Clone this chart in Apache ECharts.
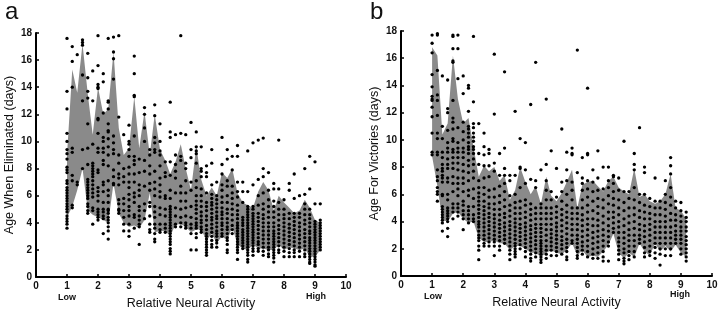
<!DOCTYPE html>
<html><head><meta charset="utf-8">
<style>html,body{margin:0;padding:0;background:#fff}#c{width:720px;height:311px}</style>
<script src="https://cdn.jsdelivr.net/npm/echarts@6/dist/echarts.min.js"></script>
</head><body><div id="c"></div>
<script>
const xs=[1,1.17,1.33,1.5,1.67,1.83,2,2.17,2.33,2.5,2.67,2.83,3,3.17,3.33,3.5,3.67,3.83,4,4.17,4.33,4.5,4.67,4.83,5,5.17,5.33,5.5,5.67,5.83,6,6.17,6.33,6.5,6.67,6.83,7,7.17,7.33,7.5,7.67,7.83,8,8.17,8.33,8.5,8.67,8.83,9,9.17];
const upperA=[9,15.3,13.6,17.2,13.5,10.5,14,12,12.4,16.6,11,9,9.5,13.3,9.5,12.2,9,12,9.4,8.6,7.6,8.5,9.8,8,6.4,9.6,7.2,6,6.6,6,7.7,7.3,8,6.2,5.5,5.3,5.1,6.3,7,6.4,4.9,6,5.5,5.1,4.7,4.9,5.7,5.1,4.2,4];
const lowerA=[4.4,5.2,6.4,8,4.9,4.6,4.4,4.2,4,6.9,4.7,4,3.7,3.8,3.6,4.2,6.2,3.3,3.4,3.4,3,3.9,3.9,3.7,3.3,3.5,3.5,2.7,3.2,2.5,3,2.7,3.7,2.4,2.1,2,2.4,2.1,2.1,2,2,2.4,2,2.2,2.1,2,2.1,1.5,1.5,2];
const upperB=[16.8,16.2,10.4,11.2,16.2,13,11.2,11.6,9.5,7.3,8.1,7.7,8,7,7.4,5.6,6.3,8,6.9,6,6.6,5.3,7.3,5.9,5.5,6.1,6.9,7.8,5,6.7,6.9,7,6.6,6.2,7,7.3,6.5,6.2,6,7.9,5.8,6,5.5,5.3,5.5,6,7.5,5,4.8,4.2];
const lowerB=[8.8,6.6,4.1,4,4.6,4.7,4.2,3.9,4,2.8,2.5,2.5,2.6,2.4,2.4,1.9,2.2,2.2,2,1.7,1.7,1.4,1.7,1.9,1.7,1.6,1.9,2.4,1.5,1.9,1.4,1.5,1.4,1.8,2.3,3.1,1.7,1.3,1.7,1.4,2.4,1.8,1.5,2.4,1.8,2.2,1.8,2.3,1.7,1.4];
const dotsA=[
[17.6,13.7,12.4,10.6,10,9.4,9.1,8.7,8.1,7.9,7.7,7.1,6.9,6.6,6.4,6.2,6,5.8,5.6,5.4,5.2,5,4.8,4.5,4.3,4.1,3.9,3.6],
[17,15.9,14,9.5,9.2,7.5,7.1,5.3,5.1],
[16.4,7,6.8],
[17.5,17.3,17.1,14.9,13,9.4,8],
[16.5,14.7,13.7,13.2,11.3,9.5,8.3,7.2,7,6.8,6.6,6.4,6.2,6,5.8,5.4,5.2,4.9,4.7],
[15.2,13,9.8,8.4,8.2,8,7.8,7.6,7.4,7.1,6.8,6.5,6.2,5.9,5.1,4.9,3.9],
[17.8,15.6,14.2,14,13.9,11.7,11.6,10.6,9.5,9.2,7.9,7.7,6.6,6.3,6,5.6,5,4.8,4.6,4.4,4.2],
[15,14.4,12.1,10.3,10,9.5,9.2,8.6,8.3,7,6.8,6.3,5.5,5,4.8,4.5,4.3,3.2],
[17.6,13,12.9,12.4,11.3,10.8,10.7,10.2,9.6,9,8.2,7.1,6.4,6,5.5,5,4.9,4.7,4.4,4.2,4,3.7,3.4,2.8],
[17.7,16.6,16.1,14.6,10.4,9.9,9.4,9.1,7.9,7.4,6.9,6.8],
[17.8,11.8,9,8.4,7.6,7.3,6.8,5.7,5.4,5,4.9,4.7],
[10.5,8,7.4,7,5.8,5.4,4.9,4.4,3.9,3.4],
[11.2,10,9.8,9.4,8.9,8.1,7.6,7,6.6,6.1,5.7,5.2,4.9,4.5,3.9,3.4,3],
[16.3,15,13.4,13.3,10.4,8.9,8.6,8.3,7.6,7,6.2,5.9,5.5,4.6,4.4,3.6],
[8.7,7.7,6.8,6.4,6,5.2,4.9,4.5,4.2,3.9,3.7,2.4],
[12.5,12,11,10,8.6,7.8,6.7,5.4,4.9,4.3],
[9.4,9,8.2,7.6,6.9,6.4,5.5,5.2,4.5,3.9,3.5,3.3],
[12.7,11.9,10.3,9.9,9.4,9.2,7.8,7,6.5,6,5.2,4.8,4.4,3.9,3.6,3.2,2.8,2.6],
[11.3,10,9.3,9,8.2,7.3,6.8,6.3,5.9,5.1,4.6,3.9,3.5,3.3],
[8.5,7.7,7.4,6,5.8,5,4.5,3.9,3.6,3.3],
[12.9,10.7,10.3,8.5,7.5,6.4,5.8,5.2,5,4.8,4.6,4.4,4.2,4,3.8,3.6,3.4,3.2,3,2.8,2.6,2.4,2.1,1.9,1.7],
[10.5,9,8.3,7.8,7.3,6.2,5.1,4.5,3.9,3.7],
[17.8,10.6,8.9,8.6,6.7,6.2,5.6,5,4.4,4,3.7],
[10.5,8.4,8,7.1,6.2,5.6,5.1,4.5,4,3.8,3.6],
[11.4,9.4,8.8,7,6.4,5.2,4.4,3.9,3.6,3.2,2],
[10.7,9.6,9.3,9.1,8.4,7.1,6.6,6,5.6,5.3,5,4.7,4.3,4,3.8,3.6,3.2,2.9,2],
[9.6,8,7.8,7.4,6.5,6,5.6,5.2,4.8,4.5,4.2,4,3.7,3.5,3.3],
[8.2,7.7,7.4,6.2,5.5,5.2,4.9,4.5,4.2,3.8,3.5,3.2,3,2.8,2.6,2.4,2.2,2,1.8,1.6],
[9.4,8.4,6.8,6.1,5.8,5.5,5.3,5,4.7,4.4,4.2,3.9,3.6,3.3,3,2.7,2.4,2.2],
[7,6,5.7,5.4,5.1,4.8,4.5,4.3,4,3.7,3.4,3.2,3,2.7,2.5,2.2],
[10.3,8.3,7.6,6.8,6.4,5.9,5.5,5.1,4.8,4.6,4.3,4,3.8,3.5,3.2,3],
[9.4,8.7,7.1,6.7,6,5.5,5,4.7,4.3,4,3.7,3.5,3.2,2.9,2.7,2.4,2,1.8],
[8.9,7.9,6.7,6.2,5.8,5.4,5,4.6,4.2,3.8,3.5,3.2],
[9.7,8.9,7,6.3,5.9,5.3,4.9,4.6,4.3,4,3.8,3.6,3.4,3.2,3,2.8,2.6,2.4,2.2,2,1.8,1.3],
[7,6.3,5.5,4.4,4.2,4,3.8,3.5,3.3,3.1,2.9,2.7,2.5,2.3,2.1],
[9.3,6.3,5.2,5,4.8,4.6,4.4,4.2,4,3.8,3.6,3.4,3.2,3,2.8,2.6,2.4,2.2,2,1.8,1.6,1.3,1.1],
[9.9,6.8,5.2,5,4.7,4.5,4.3,4.1,3.9,3.7,3.5,3.3,3.1,2.9,2.7,2.5,2.3,2.1,1.9,1.6],
[10.1,7.2,6,5.3,4.7,4.4,4.1,3.8,3.5,3.2,2.9,2.6,2.4,2.1,1.9],
[10.25,8,7.4,6.2,5.4,5,4.6,4.3,4,3.7,3.4,3.1,2.8,2.5,2.2,1.9,1.6],
[7.7,6.4,5.7,5.2,4.8,4.4,4,3.7,3.4,3.1,2.8,2.5,2.2,2,1.7,1.5],
[6.9,6.5,5.6,5.2,4.8,4.4,4,3.7,3.4,3.2,3,2.8,2.6,2.4,2.2,2,1.8,1.6,1.4,1.1],
[10.1,6.5,5.5,5,4.6,4.2,3.8,3.5,3.2,2.9,2.6,2.3,2,1.8],
[5.7,5,4.6,4.3,4,3.7,3.4,3.1,2.8,2.5,2.2,1.9,1.5],
[6.9,6.4,4.7,4.3,3.9,3.6,3.3,3,2.7,2.4,2.1,1.8,1.5],
[7.6,5.8,4.7,4.4,4.1,3.8,3.5,3.2,2.9,2.6,2.3,2,1.8,1.5],
[6,4.7,4.4,4,3.7,3.4,3.1,2.8,2.5,2.2,1.9,1.5],
[8,6.1,5.4,5,4.6,4.2,3.9,3.5,3.2,2.9,2.6,2.3,2,1.7,1.5],
[8.9,6.5,5,4.6,4.3,4,3.7,3.4,3.2,2.9,2.7,2.5,2.3,2.1,1.9,1.7,1.5,1.3,1.1,1],
[8.5,5.4,4.1,3.9,3.7,3.5,3.3,3.1,2.9,2.7,2.5,2.3,2.1,1.9,1.7,1.5,1.3,1.1,0.9,0.8],
[5.4,4.2,4,3.8,3.6,3.4,3.2,3,2.8,2.6,2.4,2.2,2]
];
const dotsB=[
[17.7,17.1,16.4,14.8,13.9,13.2,13,12.9,12.4,11.7,10.5,9.1,8.9],
[17.8,17.7,15.1,13.3,12.9,11.8,10.5,10.1,9.1,8.9,7.8,7.3,7,6.5,6.2,6,5.5],
[14.7,11,10.1,9.1,8.7,8.2,7.9,7.7,7.4,7.2,6.9,6,5.9,5.1,4.9,4.7,4.5,4.3,4.1,3.9,3.3],
[14.4,12.3,12,10.7,9.8,9.4,9.1,8.6,8.2,7.9,7.2,6.9,6,5.6,5,4.8,4.6,4.4,4.2,4,3.5,2.9],
[17.7,17.6,16.7,15.8,15.7,12.9,11.6,11.3,10.8,10.1,9.9,9.3,9.1,8.7,8.3,7.9,7.3,6.8,6.2,5.3,5,4.7,4.2],
[17.7,16.7,14.5,10.9,9.8,9.4,9.1,8.7,8.3,7.8,7.2,6.8,6.4,5.9,5.3,5,4.7,4.4],
[14.7,13.4,11.3,10.6,10,9.4,9.1,8.7,8.2,7.7,7.2,6.8,6.2,5.5,5.2,4.8,4.5,4.2,3.4],
[14,13.8,12.1,11,10.8,10.5,10.2,9.8,9.5,9.3,9,8.5,8.1,7.6,7,6.3,5.9,5.1,4.8,4.5,4.2,3.9],
[17.6,12.8,11.2,10.9,10.5,10.2,9.9,9.5,9.3,9,8.6,8.2,7.7,7.2,6.4,5.7,5.1,4.5,4.2,4],
[11.2,9,8.2,7,6.5,6.1,5.8,5.5,5.2,4.9,4.6,4.3,4,3.8,3.6,3.3,3,2.8,2.6,2.2,1.9,1.2],
[10.5,9.5,8.9,8.1,7.2,6.5,6,5.5,5.1,4.8,4.5,4.2,3.9,3.6,3.3,3,2.7,2.4,2.2],
[9.3,9,8.1,7.3,6.3,5.8,5.3,5,4.6,4.3,4,3.7,3.4,3.1,2.8,2.5,2.2],
[16.3,11.9,8.3,7.7,6.4,5.8,5.3,4.9,4.5,4.2,3.9,3.6,3.3,3,2.7,2.5,2.2,1.5],
[9,7.4,6.6,5.9,5.4,4.9,4.5,4.1,3.8,3.5,3.2,2.9,2.6,2.2,1.9],
[15,9.4,7.9,7.4,6.8,6.2,5.6,5.1,4.6,4.3,3.9,3.6,3.3,3,2.7,2.4],
[7.4,7,5.9,5.2,4.8,4.4,4,3.7,3.4,3.1,2.8,2.5,2.2,1.9,1.6,1.2],
[12.1,7.4,6,5.4,5,4.6,4.2,3.9,3.6,3.3,3,2.7,2.4,2.2,2,1.8,1.6,1.4],
[10.1,8,7.9,6.5,5.5,5,4.6,4.2,3.8,3.5,3.2,2.9,2.6,2.3,2],
[9.8,7.8,6.8,5.6,5.2,4.7,4.3,3.9,3.6,3.3,3,2.7,2.4,2.1,1.8,1.4],
[12.6,7.1,5.3,4.9,4.5,4.1,3.7,3.4,3.1,2.8,2.5,2.2,1.9,1.6,1.3,1.1],
[15.7,7,6.5,5,4.6,4.2,3.8,3.5,3.2,2.9,2.6,2.3,2,1.7,1.4],
[7.8,5.3,5,4.6,4.2,3.8,3.5,3.2,2.9,2.6,2.4,2.2,2,1.8,1.6,1.4,1.2,1],
[13,8.2,7,6.3,5.6,5,4.6,4.2,3.8,3.4,3,2.6,2.2,1.9,1.6,1.3],
[9.2,6.2,5.6,5,4.6,4.2,3.8,3.4,3.1,2.8,2.5,2.2,1.9,1.5],
[7.9,5.8,5.1,4.7,4.3,3.9,3.6,3.3,3,2.7,2.4,2.1,1.8,1.5],
[10.8,6.9,6.2,5.5,4.9,4.5,4.1,3.7,3.3,2.9,2.6,2.3,2,1.6],
[9.1,7.8,7,6,5.2,4.7,4.3,3.9,3.5,3.1,2.7,2.4,2.1,1.8,1.4,1.2],
[9.4,9,8.9,6.9,6.3,5.6,5,4.6,4.2,3.8,3.4,3,2.6,2.4],
[16.6,7.6,5,4.6,4.2,3.8,3.4,3,2.7,2.4,2.1,1.8,1.5,1.3],
[8.7,7.2,6.8,6.3,5.6,5,4.5,4.1,3.7,3.3,2.9,2.5,2.2,1.9,1.6],
[13.8,9,8.9,7,6.4,5.8,5.2,4.7,4.2,3.8,3.4,3,2.6,2.2,1.8,1.4],
[7.8,6.9,6.2,5.5,4.8,4.2,3.7,3.2,2.8,2.4,2,1.6,1.3],
[9.2,7.2,6.3,5.7,5.1,4.6,4.1,3.7,3.3,2.9,2.5,2.1,1.7,1.3],
[8,6.4,5.6,5,4.4,3.9,3.4,3,2.6,2.2,1.8,1.4,1.1],
[8,7,6.5,5.9,5.3,4.7,4.2,3.7,3.3,2.9,2.5,2.2,1.1],
[7.4,7.3,6.8,6.2,5.7,5.2,4.7,4.3,3.9,3.5,3.2],
[7.2,6.3,5.6,5,4.5,4,3.6,3.2,2.8,2.5,2.2,1.9,1.6,1.2],
[9.9,6.2,5.4,4.8,4.2,3.7,3.2,2.8,2.4,2,1.7,1.3,1.1,0.9],
[6.2,5.7,5,4.4,3.9,3.4,3,2.6,2.2,1.8,1.5,1.2],
[9,8.2,7.8,6.5,5.6,5,4.5,4,3.5,3,2.6,2.2,1.8,1.4],
[10.9,6,5.4,4.8,4.3,3.8,3.4,3,2.7,2.4],
[8,7.6,6,5.2,4.7,4.2,3.7,3.3,2.9,2.5,2.1,1.7,1.4],
[5.7,5.1,4.6,4.2,3.8,3.4,3,2.6,2.2,1.8,1.5],
[7.2,5.5,5,4.5,4,3.6,3.2,2.8,2.4,2.1,1.7,1.3],
[5.5,5,4.5,4,3.6,3.2,2.8,2.4,2,1.6,0.8],
[7,6,5.4,4.9,4.4,4,3.6,3.2,2.8,2.4,2,1.5],
[8.7,8.1,7.5,6.5,5.8,5.2,4.6,4.1,3.6,3.2,2.8,2.4,2,1.5],
[5.5,5,4.5,4.1,3.7,3.3,3,2.7,2.4],
[5.4,4.8,4.4,4,3.6,3.3,3,2.7,2.4,2,1.6],
[4.7,4.3,4,3.6,3.3,2.9,2.6,2.3,2,1.7,1.4,1.1]
];
const FONT='"Liberation Sans",Arial,sans-serif';
const GRAY='#8a8a8a';
const chart=echarts.init(document.getElementById('c'),null,{renderer:'canvas'});
const axisCommon={min:0,axisLine:{show:true,onZero:false,lineStyle:{color:'#000',width:2}},
  axisTick:{show:true,inside:true,length:3,lineStyle:{color:'#000',width:1.5}},
  splitLine:{show:false},
  nameTextStyle:{color:'#111',fontFamily:FONT,fontSize:12.5},
  axisLabel:{color:'#111',fontFamily:FONT,fontSize:10,fontWeight:'bold',margin:4,showMinLabel:true,showMaxLabel:true,hideOverlap:false}};
function xAxis(i,nameGap){return Object.assign({},axisCommon,{type:'value',gridIndex:i,max:10,interval:1,name:'Relative Neural Activity',nameLocation:'middle',nameGap:nameGap});}
function yAxis(i,name){return Object.assign({},axisCommon,{type:'value',gridIndex:i,max:18,interval:2,name:name,nameLocation:'middle',nameGap:20});}
function panel(i,up,lo,dots){
  const n=xs.length;
  const outline=xs.map((x,k)=>[x,up[k]]).concat(xs.map((x,k)=>[xs[n-1-k],lo[n-1-k]]));
  return [
    {type:'custom',xAxisIndex:i,yAxisIndex:i,silent:true,z:1,clip:false,
     data:outline,encode:{x:0,y:1},
     renderItem:(p,api)=>{
       if(p.dataIndex!==0) return null;
       return {type:'polygon',shape:{points:outline.map(q=>api.coord(q))},style:{fill:GRAY,stroke:null}};
     }},
    {type:'scatter',xAxisIndex:i,yAxisIndex:i,symbol:'circle',symbolSize:3.3,itemStyle:{color:'#000',opacity:1},data:xs.flatMap((x,k)=>dots[k].map(v=>[x,v])),z:3,silent:true}
  ];
}
const textStyle=(t,x,y,size,w)=>({type:'text',left:x,top:y,style:{text:t,fill:'#111',font:(w||'normal')+' '+size+'px '+FONT}});
chart.setOption({
  animation:false,backgroundColor:'#fff',
  grid:[{left:36,top:33,width:310,height:244,outerBoundsMode:'none'},{left:401,top:31,width:311,height:245,outerBoundsMode:'none'}],
  xAxis:[xAxis(0,20),xAxis(1,20)],
  yAxis:[yAxis(0,'Age When Eliminated (days)'),yAxis(1,'Age For Victories (days)')],
  series:[...panel(0,upperA,lowerA,dotsA),...panel(1,upperB,lowerB,dotsB)],
  graphic:[
    textStyle('a',5,0,24),textStyle('b',370,0,24),
    textStyle('Low',58,293,9,'bold'),textStyle('High',306,292,9,'bold'),
    textStyle('Low',424,292,9,'bold'),textStyle('High',670,290,9,'bold')
  ]
});
</script></body></html>
